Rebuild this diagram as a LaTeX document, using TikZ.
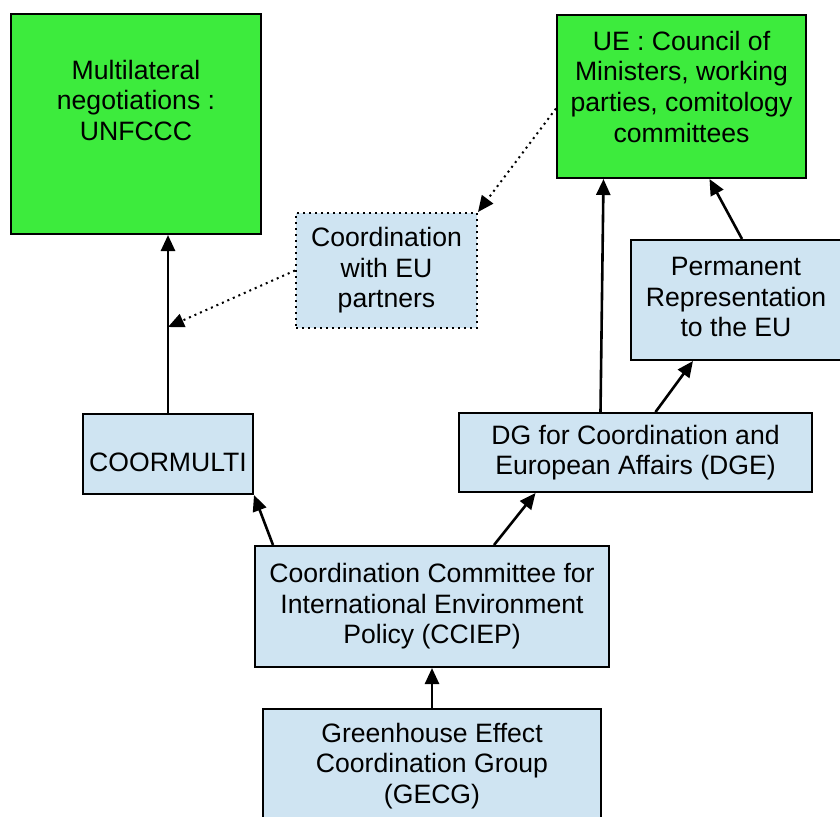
\documentclass[tikz,border=0pt]{standalone}
\usepackage{fontspec}
\setmainfont{Liberation Sans}
\usetikzlibrary{arrows.meta, positioning, calc}
\definecolor{vertcadre}{RGB}{61,235,61}
\definecolor{bleucadre}{RGB}{207,228,242}
\tikzset{>={Triangle[length=8pt,width=7pt]}}
\tikzset{
  boite/.style={draw, line width=1pt, align=center, inner sep=2pt,
    font=\fontsize{13.3pt}{15.3pt}\selectfont},
  vertbox/.style={boite, fill=vertcadre},
  bleubox/.style={boite, fill=bleucadre},
  fleche/.style={->, line width=1.3pt},
  pointille/.style={->, line width=1pt, dotted}
}

\begin{document}
\begin{tikzpicture}[x=0.5pt, y=-0.5pt]

		\useasboundingbox (0,0) rectangle (840,816);

		% instances de decision
		\node [vertbox, minimum width=125pt, minimum height=110pt, text depth=24pt] (multi) at (136,124) {Multilateral\\negotiations :\\UNFCCC};
		\node [vertbox, minimum width=124.5pt, minimum height=81.5pt, text depth=10pt] (ue) at (681.5,96.5) {UE : Council of\\Ministers, working\\parties, comitology\\committees};

		% coordination
		\node [bleubox, dotted, minimum width=90.5pt, minimum height=57.5pt] (coord) at (386.5,270.5) {Coordination\\with EU\\partners};
		\node [bleubox, minimum width=105pt, minimum height=60pt, text depth=3pt] (perm) at (736,300) {Permanent\\Representation\\to the EU};
		\node [bleubox, minimum width=85pt, minimum height=40pt, text height=17.5pt, text depth=0pt] (coormulti) at (168,454) {COORMULTI};
		\node [bleubox, minimum width=176.5pt, minimum height=39.5pt] (dge) at (635.5,452.5) {DG for Coordination and\\European Affairs (DGE)};
		\node [bleubox, minimum width=177pt, minimum height=60.5pt] (cciep) at (432,606.5) {Coordination Committee for\\International Environment\\Policy (CCIEP)};
		\node [bleubox, minimum width=169pt, minimum height=57pt] (gecg) at (432,766) {Greenhouse Effect\\Coordination Group\\(GECG)};

		\coordinate (jonction) at (168,327);

		% fleches
		\draw [fleche] (coormulti.north) -- (coormulti.north |- multi.south);
		\draw [fleche] ([xshift=-17.5pt]dge.north) -- ([xshift=-39pt]ue.south);
		\draw [fleche] ([xshift=3pt]perm.north) -- ([xshift=14pt]ue.south);
		\draw [fleche] ([xshift=10pt]dge.north) -- ([xshift=-21.5pt]perm.south);
		\draw [fleche] ([xshift=-79.5pt]cciep.north) -- (coormulti.south east);
		\draw [fleche] ([xshift=31pt]cciep.north) -- ([xshift=-50pt]dge.south);
		\draw [fleche] (gecg.north) -- (cciep.south);

		\draw [pointille] (coord.west) -- (jonction);
		\draw [pointille] ([yshift=-6pt]ue.west) -- (coord.north east);

\end{tikzpicture}
\end{document}
